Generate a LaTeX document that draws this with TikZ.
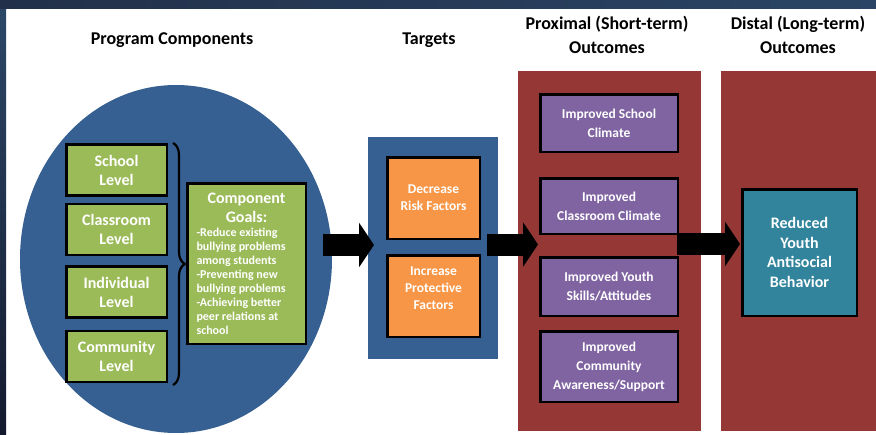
\documentclass[tikz,border=0pt]{standalone}
\usepackage{fontspec}
\setmainfont{Carlito}
\usetikzlibrary{shapes.geometric,decorations.pathreplacing,arrows.meta}
\definecolor{pblue}{HTML}{376092}
\definecolor{pgreen}{HTML}{9BBB59}
\definecolor{porange}{HTML}{F79646}
\definecolor{pred}{HTML}{953735}
\definecolor{ppurple}{HTML}{8064A2}
\definecolor{pteal}{HTML}{31849B}
\definecolor{frameA}{HTML}{22304A}
\definecolor{frameB}{HTML}{4F6F8F}
\definecolor{frameC}{HTML}{2A4565}
\definecolor{frameD}{HTML}{2C4868}
\definecolor{frameE}{HTML}{141A2E}
\tikzset{
  box/.style={draw=black, line width=2.5pt, text=white, font=\bfseries, align=center, inner sep=0pt},
  lvl/.style={box, fill=pgreen, minimum width=100.5pt, minimum height=51pt, font=\bfseries\fontsize{16}{19}\selectfont},
  orng/.style={box, fill=porange, minimum width=92.5pt, minimum height=81.5pt, font=\bfseries\fontsize{13.5}{17}\selectfont},
  purp/.style={box, fill=ppurple, minimum width=137.5pt, font=\bfseries\fontsize{13.5}{19}\selectfont},
  txt/.style={text=white, align=center, inner sep=0pt},
  hdr/.style={align=center, font=\bfseries\fontsize{18}{24}\selectfont, inner sep=0pt},
  bigarrow/.style={line width=22pt, -{Triangle[length=15pt,width=44pt]}}
}
\begin{document}
\begin{tikzpicture}[x=1pt,y=-1pt]
\useasboundingbox (0,0) rectangle (876,434);
% frame
\fill[white] (0,0) rectangle (876,434);
\shade[top color=frameD, bottom color=frameE] (0,0) rectangle (6,434);
\shade[left color=frameA, middle color=frameB, right color=frameC] (0,0) rectangle (876,8);

% headers
\node[hdr] (h1) at (172,40) {Program Components};
\node[hdr] (h2) at (429,40) {Targets};
\node[hdr] (h3) at (607,35) {Proximal (Short-term)\\Outcomes};
\node[hdr] (h4) at (798,35) {Distal (Long-term)\\Outcomes};

% program components
\node[ellipse, fill=pblue, minimum width=312pt, minimum height=348pt, inner sep=0pt] (pc) at (176,259) {};
\node[lvl] (school) at (116.5,170) {School\\Level};
\node[lvl] (class) at (116.5,229.5) {Classroom\\Level};
\node[lvl] (indiv) at (116.5,292) {Individual\\Level};
\node[lvl] (comm) at (116.5,356.5) {Community\\Level};
\draw[line width=2.2pt, decorate, decoration={brace, amplitude=12pt}] (173,143) -- (173,385);
\node[box, fill=pgreen, minimum width=118.5pt, minimum height=160.5pt] (goals) at (246.5,263.5)
  {\parbox{100pt}{\centering\fontsize{16}{19}\selectfont Component\\Goals:\par
   \raggedright\fontsize{12}{14}\selectfont -Reduce existing\\bullying problems\\among students\\-Preventing new\\bullying problems\\-Achieving better\\peer relations at\\school\par}};

% targets
\node[fill=pblue, minimum width=130pt, minimum height=222pt, inner sep=0pt] (tg) at (433,248) {};
\node[orng] (dec) at (433.5,198) {Decrease\\Risk Factors};
\node[orng] (inc) at (433.5,296) {};
\node[txt, font=\bfseries\fontsize{13.5}{17}\selectfont] (inct) at ([yshift=8pt]inc.center) {Increase\\Protective\\Factors};

% proximal
\node[fill=pred, minimum width=183pt, minimum height=360pt, inner sep=0pt] (prox) at (609.5,251) {};
\node[purp, minimum height=57.5pt] (p1) at (609,123) {Improved School\\Climate};
\node[purp, minimum height=55.5pt] (p2) at (609,206) {Improved\\Classroom Climate};
\node[purp, minimum height=58.5pt] (p3) at (609,286.5) {Improved Youth\\Skills/Attitudes};
\node[purp, minimum height=70.5pt] (p4) at (609,366.5) {Improved\\Community\\Awareness/Support};

% distal
\node[fill=pred, minimum width=155pt, minimum height=360pt, inner sep=0pt] (dist) at (798.5,251) {};
\node[box, fill=pteal, minimum width=114.5pt, minimum height=126.5pt, font=\bfseries\fontsize{16}{19.5}\selectfont] (teal) at (799.5,252.5) {Reduced\\Youth\\Antisocial\\Behavior};

% arrows
\coordinate (a1s) at (323,245);
\coordinate (a1e) at (374,245);
\coordinate (a2s) at (487,244.5);
\coordinate (a2e) at (538,244.5);
\coordinate (a3s) at (677,244);
\coordinate (a3e) at (740,244);
\draw[bigarrow] (a1s) -- (a1e);
\draw[bigarrow] (a2s) -- (a2e);
\draw[bigarrow] (a3s) -- (a3e);
\end{tikzpicture}
\end{document}
